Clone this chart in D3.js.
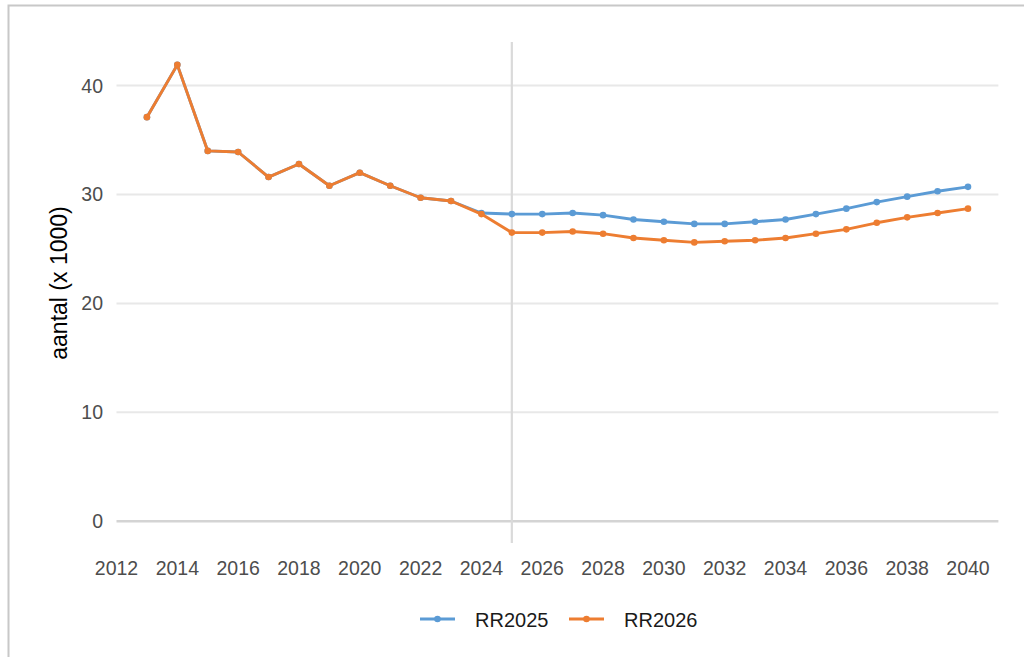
<!DOCTYPE html>
<html>
<head>
<meta charset="utf-8">
<script src="https://cdn.jsdelivr.net/npm/d3@7"></script>
<style>
  body { margin: 0; background: #fff; }
  svg { display: block; font-family: "Liberation Sans", Arial, sans-serif; }
</style>
</head>
<body>
<svg width="1024" height="657"></svg>
<script>
// data
const years = d3.range(2013, 2041);
const rr2025 = [37.1, 41.9, 34.0, 33.9, 31.6, 32.8, 30.8, 32.0, 30.8, 29.7, 29.4, 28.3,
                28.2, 28.2, 28.3, 28.1, 27.7, 27.5, 27.3, 27.3, 27.5, 27.7, 28.2, 28.7,
                29.3, 29.8, 30.3, 30.7];
const rr2026 = [37.1, 41.9, 34.0, 33.9, 31.6, 32.8, 30.8, 32.0, 30.8, 29.7, 29.4, 28.2,
                26.5, 26.5, 26.6, 26.4, 26.0, 25.8, 25.6, 25.7, 25.8, 26.0, 26.4, 26.8,
                27.4, 27.9, 28.3, 28.7];
const seriesNames = ["RR2025", "RR2026"];
const seriesColors = ["#5b9bd5", "#ed7d31"];
const xTicks = d3.range(2012, 2041, 2);
const yTicks = [0, 10, 20, 30, 40];
const markYear = 2025;

let svg = d3.select("svg");

// outer frame (clipped at right/bottom)
svg.append("rect")
    .attr("x", 8.5).attr("y", 5.5)
    .attr("width", 1100).attr("height", 700)
    .attr("fill", "none")
    .attr("stroke", "#c8c8c8")
    .attr("stroke-width", 2);

let x = d3.scaleLinear().domain([2012, 2041]).range([116.5, 998.4]);
let y = d3.scaleLinear().domain([-2, 44]).range([543, 42]);

// grid
let grid = svg.append("g");
grid.selectAll("line.grid")
    .data(yTicks)
    .enter().append("line")
    .attr("x1", x(2012)).attr("x2", x(2041))
    .attr("y1", d => y(d)).attr("y2", d => y(d))
    .attr("stroke", d => d === 0 ? "#d4d4d4" : "#e8e8e8")
    .attr("stroke-width", d => d === 0 ? 2.4 : 2);

// vertical marker
svg.append("line")
    .attr("x1", x(markYear)).attr("x2", x(markYear))
    .attr("y1", y(44)).attr("y2", y(-2))
    .attr("stroke", "#dadada")
    .attr("stroke-width", 2.2);

// y axis labels
svg.append("g").selectAll("text")
    .data(yTicks)
    .enter().append("text")
    .attr("x", 103)
    .attr("y", d => y(d) + 7)
    .attr("text-anchor", "end")
    .attr("font-size", 19.5)
    .attr("fill", "#4d4d4d")
    .text(d => d);

// x axis labels
svg.append("g").selectAll("text")
    .data(xTicks)
    .enter().append("text")
    .attr("x", d => x(d))
    .attr("y", 575)
    .attr("text-anchor", "middle")
    .attr("font-size", 19.5)
    .attr("fill", "#4d4d4d")
    .text(d => d);

// y title
svg.append("text")
    .attr("transform", "translate(67,283) rotate(-90)")
    .attr("text-anchor", "middle")
    .attr("font-size", 23)
    .attr("fill", "#000")
    .text("aantal (x 1000)");

// lines
let line = d3.line()
    .x(d => x(d.year))
    .y(d => y(d.value));

[rr2025, rr2026].forEach((vals, i) => {
    let pts = years.map((yr, j) => ({year: yr, value: vals[j]}));
    let g = svg.append("g");
    g.append("path")
        .datum(pts)
        .attr("d", line)
        .attr("fill", "none")
        .attr("stroke", seriesColors[i])
        .attr("stroke-width", 2.9)
        .attr("stroke-linejoin", "round");
    g.selectAll("circle")
        .data(pts)
        .enter().append("circle")
        .attr("cx", d => x(d.year))
        .attr("cy", d => y(d.value))
        .attr("r", 3.3)
        .attr("fill", seriesColors[i]);
});

// legend
let legendX = [420, 569];
let legend = svg.append("g");
seriesNames.forEach((name, i) => {
    let lg = legend.append("g").attr("transform", `translate(${legendX[i]},619)`);
    lg.append("line")
        .attr("x1", 0).attr("x2", 35)
        .attr("stroke", seriesColors[i])
        .attr("stroke-width", 2.9);
    lg.append("circle")
        .attr("cx", 17.5).attr("r", 3.3)
        .attr("fill", seriesColors[i]);
    lg.append("text")
        .attr("x", 55).attr("y", 8)
        .attr("font-size", 20)
        .attr("fill", "#1a1a1a")
        .text(name);
});
</script>
</body>
</html>
